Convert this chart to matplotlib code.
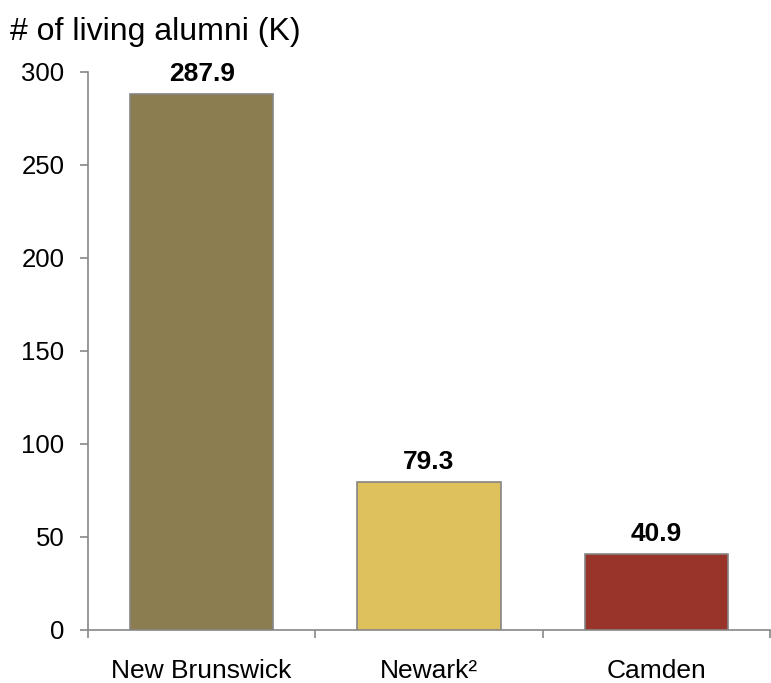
import matplotlib
matplotlib.use("Agg")
import matplotlib.pyplot as plt

plt.rcParams['font.family'] = ['Liberation Sans', 'DejaVu Sans']

campuses = ["New Brunswick", "Newark\u00b2", "Camden"]
alumni = [287.9, 79.3, 40.9]
labels = ["287.9", "79.3", "40.9"]
colors = ["#8C7D50", "#DEC15C", "#99342B"]

fig = plt.figure(figsize=(7.71, 6.83), dpi=100)
ax = fig.add_axes([0.1141, 0.0776, 0.8846, 0.817])

x = range(len(campuses))
bars = ax.bar(x, alumni, width=0.63, color=colors, edgecolor="#858585", linewidth=1.2, zorder=3)

for b, lab in zip(bars, labels):
    ax.annotate(lab, (b.get_x() + b.get_width() / 2, b.get_height()),
                xytext=(0, 6), textcoords="offset points",
                ha="center", va="bottom", fontsize=19, fontweight="bold")

ax.set_xlim(-0.5, 2.5)
ax.set_ylim(0, 300)
ax.set_yticks([0, 50, 100, 150, 200, 250, 300])
ax.set_xticks(list(x))
ax.set_xticklabels(campuses, fontsize=19)
ax.set_xticks([-0.5, 0.5, 1.5, 2.5], minor=True)
ax.tick_params(axis="x", which="major", length=0, pad=21)
ax.tick_params(axis="x", which="minor", length=6, color="#888888", width=1.2)
ax.tick_params(axis="y", length=6, color="#888888", width=1.2, labelsize=18.5, pad=11)

for s in ["top", "right"]:
    ax.spines[s].set_visible(False)
for s in ["left", "bottom"]:
    ax.spines[s].set_color("#888888")
    ax.spines[s].set_linewidth(1.2)

fig.text(0.013, 0.942, "# of living alumni (K)", fontsize=23, ha="left", va="baseline")

fig.savefig("out.png", dpi=100)
